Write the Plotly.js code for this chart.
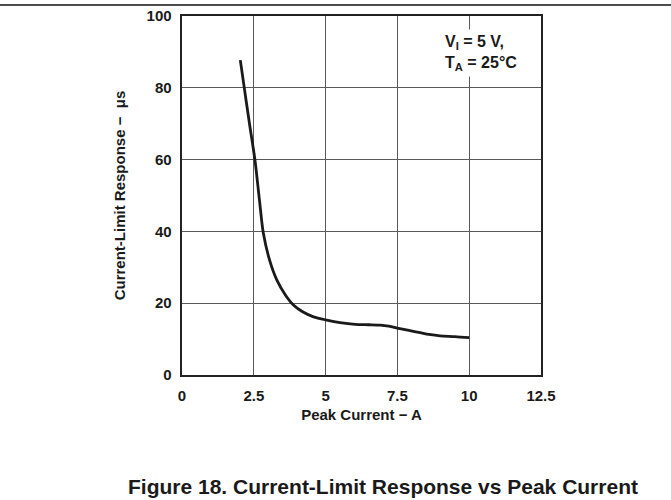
<!DOCTYPE html>
<html>
<head>
<meta charset="utf-8">
<script src="https://cdn.plot.ly/plotly-3.0.1.min.js"></script>
<style>
html,body{margin:0;padding:0;background:#fff;}
#chart{width:671px;height:500px;}
</style>
</head>
<body>
<div id="chart"></div>
<script>
// Data
var peakCurrent = [2.03, 2.17, 2.35, 2.54, 2.7, 2.83, 3.05, 3.3, 3.6, 3.88, 4.2, 4.58, 5.04, 5.5, 6.03, 6.5, 6.9, 7.2, 7.54, 7.9, 8.29, 8.6, 8.99, 9.5, 10.0];
var responseUs  = [87.7, 79.9, 70.0, 59.9, 48.5, 39.6, 32.0, 26.5, 22.3, 19.5, 17.6, 16.2, 15.3, 14.6, 14.1, 14.0, 13.9, 13.6, 13.0, 12.4, 11.8, 11.3, 10.9, 10.7, 10.4];
var xTicks = [0, 2.5, 5, 7.5, 10, 12.5];
var xTickLabels = ['0', '2.5', '5', '7.5', '10', '12.5'];
var yTicks = [0, 20, 40, 60, 80, 100];
var yTickLabels = ['0', '20', '40', '60', '80', '100'];

var fontFam = 'Liberation Sans, Arial, sans-serif';
var ink = '#1a1a1a';

var trace = {
  x: peakCurrent,
  y: responseUs,
  mode: 'lines',
  line: {color: ink, width: 2.8, shape: 'spline', smoothing: 0.8},
  hoverinfo: 'skip'
};

var layout = {
  width: 671, height: 500,
  margin: {l: 182, r: 130, t: 16, b: 125},
  paper_bgcolor: '#fff', plot_bgcolor: '#fff',
  showlegend: false,
  font: {family: fontFam, color: ink},
  xaxis: {
    range: [0, 12.5], tickvals: xTicks, ticktext: xTickLabels,
    showgrid: true, gridcolor: '#5a5a5a', gridwidth: 1,
    zeroline: false, showline: true, linecolor: '#222', linewidth: 2.4, mirror: true,
    ticks: '', ticklen: 0, ticklabelstandoff: 6,
    tickfont: {family: fontFam, size: 15, weight: 'bold', color: ink},
    title: {text: 'Peak Current − A', font: {family: fontFam, size: 15, weight: 'bold', color: ink}, standoff: 6},
    fixedrange: true
  },
  yaxis: {
    range: [0, 100], tickvals: yTicks, ticktext: yTickLabels,
    showgrid: true, gridcolor: '#5a5a5a', gridwidth: 1,
    zeroline: false, showline: true, linecolor: '#222', linewidth: 2.4, mirror: true,
    ticks: '', ticklen: 0, ticklabelstandoff: 5,
    tickfont: {family: fontFam, size: 15, weight: 'bold', color: ink},
    title: {text: 'Current-Limit Response −  μs', font: {family: fontFam, size: 15, weight: 'bold', color: ink}, standoff: 18},
    fixedrange: true
  },
  shapes: [
    {type: 'line', xref: 'paper', yref: 'paper',
     x0: -182/359, x1: 489/359, y0: 1 + 11/359, y1: 1 + 11/359,
     line: {color: '#111', width: 1.5}}
  ],
  annotations: [
    {xref: 'paper', yref: 'paper', x: 259/359, y: (375-29)/359,
     xanchor: 'left', yanchor: 'top', align: 'left', showarrow: false,
     bgcolor: '#fff', borderpad: 3,
     text: 'V<sub>I</sub> = 5 V,<br>T<sub>A</sub> = 25°C',
     font: {family: fontFam, size: 16, weight: 'bold', color: ink}},
    {xref: 'paper', yref: 'paper', x: (383-182)/359, y: -(486-375)/359,
     xanchor: 'center', yanchor: 'middle', showarrow: false,
     text: 'Figure 18. Current-Limit Response vs Peak Current',
     font: {family: fontFam, size: 21, weight: 'bold', color: ink}}
  ]
};

Plotly.newPlot('chart', [trace], layout, {displayModeBar: false, staticPlot: true});
</script>
</body>
</html>
